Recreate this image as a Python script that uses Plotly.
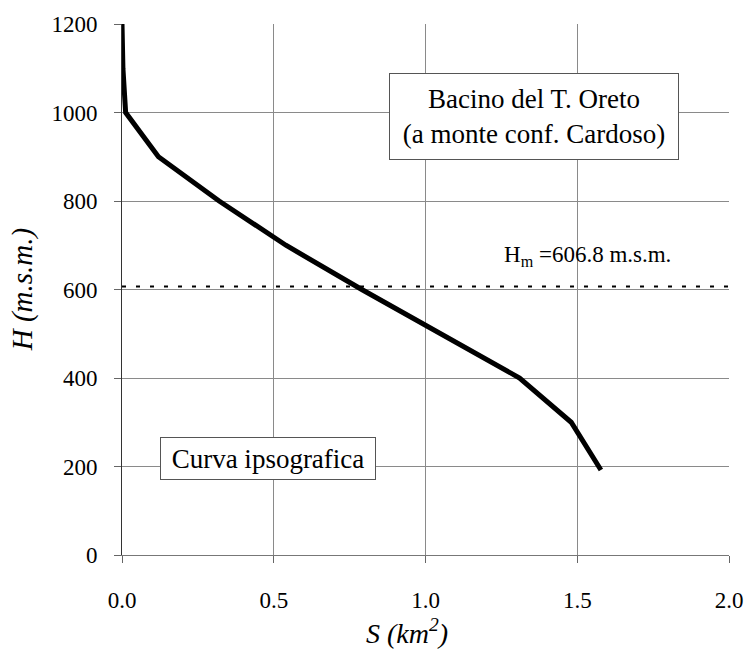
import plotly.graph_objects as go

# Hypsographic curve data (S in km^2, H in m s.m.)
area_km2 = [0.0, 0.003, 0.012, 0.12, 0.32, 0.54, 0.79, 1.05, 1.31, 1.48, 1.578]
elev_m = [1200, 1100, 1000, 900, 800, 700, 600, 500, 400, 300, 192]

mean_elev = 606.8
x_ticks = [0.0, 0.5, 1.0, 1.5, 2.0]
x_tick_labels = ["0.0", "0.5", "1.0", "1.5", "2.0"]
y_ticks = [0, 200, 400, 600, 800, 1000, 1200]

FONT = "Liberation Serif"

fig = go.Figure()
fig.add_trace(go.Scatter(x=area_km2, y=elev_m, mode="lines",
                         line=dict(color="black", width=5), showlegend=False))
fig.add_trace(go.Scatter(x=[0, 2], y=[mean_elev, mean_elev], mode="lines",
                         line=dict(color="black", width=2, dash="4px,10px"),
                         showlegend=False))

fig.update_layout(
    width=755, height=660,
    margin=dict(l=122, r=21, t=23, b=105),
    paper_bgcolor="white", plot_bgcolor="white",
    font=dict(family=FONT, color="black", size=23),
    xaxis=dict(range=[0, 2], tickvals=x_ticks, ticktext=x_tick_labels,
               showgrid=True, gridcolor="#8a8a8a", gridwidth=1,
               zeroline=False, showline=True, linecolor="#777", linewidth=1,
               ticks="outside", ticklen=7, tickcolor="#666",
               tickfont=dict(size=23, family=FONT), ticklabelstandoff=17,
               ticklabeloverflow="allow"),
    yaxis=dict(range=[0, 1200], tickvals=y_ticks,
               showgrid=True, gridcolor="#8a8a8a", gridwidth=1,
               zeroline=False, showline=True, linecolor="#333", linewidth=1,
               ticks="outside", ticklen=7, tickcolor="#666",
               tickfont=dict(size=23, family=FONT), ticklabelstandoff=12),
    annotations=[
        dict(x=(409 - 122) / 612, y=(555 - 632) / 532, xref="paper", yref="paper",
             text="<i>S (km<sup>2</sup>)</i>", showarrow=False,
             font=dict(size=28, family=FONT), xanchor="center", yanchor="middle"),
        dict(x=(22 - 122) / 612, y=0.5, xref="paper", yref="paper",
             text="<i>H (m.s.m.)</i>", showarrow=False, textangle=-90,
             font=dict(size=29, family=FONT), xanchor="center", yanchor="middle"),
        dict(x=1.356, y=992, xref="x", yref="y",
             text="Bacino del T. Oreto<br>(a monte conf. Cardoso)", showarrow=False,
             font=dict(size=27, family=FONT), align="center",
             bgcolor="white", bordercolor="#555", borderwidth=1,
             width=286, height=83, xanchor="center", yanchor="middle"),
        dict(x=0.48, y=219, xref="x", yref="y",
             text="Curva ipsografica", showarrow=False,
             font=dict(size=27, family=FONT), align="center",
             bgcolor="white", bordercolor="#555", borderwidth=1,
             width=212, height=39, xanchor="center", yanchor="middle"),
        dict(x=1.533, y=676, xref="x", yref="y",
             text="H<sub>m</sub> =606.8 m.s.m.", showarrow=False,
             font=dict(size=23, family=FONT), xanchor="center", yanchor="middle"),
    ],
)

fig.write_html("out.html", config={"displayModeBar": False},
               post_script="document.body.style.margin='0px';")
